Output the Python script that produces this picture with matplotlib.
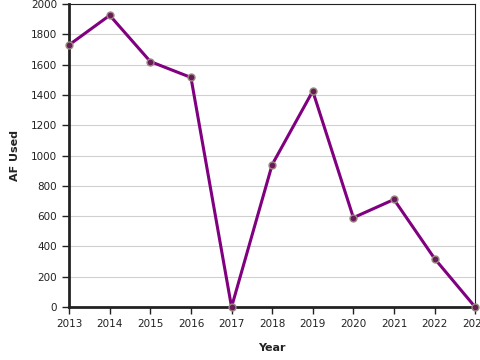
import matplotlib
matplotlib.use('Agg')
from matplotlib import pyplot as plt

# Data;
years = [2013, 2014, 2015, 2016, 2017, 2018, 2019, 2020, 2021, 2022, 2023]
af_used = [1730, 1925, 1620, 1515, 0, 940, 1425, 590, 710, 320, 0]

fig = plt.figure(figsize=(4.8, 3.6), dpi=100)
ax = fig.add_axes([0.144, 0.147, 0.846, 0.842])

ax.plot(years, af_used, color='#800080', linewidth=2.2, zorder=3,
        marker='o', markersize=5, markerfacecolor='#6a1a5a',
        markeredgecolor='#9a8a80', markeredgewidth=1.0, clip_on=False)

ax.set_xlim(2013, 2023)
ax.set_ylim(0, 2000)
ax.set_xticks(years)
ax.set_yticks(range(0, 2001, 200))
ax.tick_params(labelsize=7.5, colors='#222222', length=5, width=1)
ax.yaxis.grid(True, color='#d0d0d0', linewidth=0.8)
ax.set_axisbelow(True)

for side in ['left', 'bottom']:
    ax.spines[side].set_linewidth(2)
    ax.spines[side].set_color('#222222')
for side in ['top', 'right']:
    ax.spines[side].set_linewidth(0.8)
    ax.spines[side].set_color('#222222')

ax.set_xlabel('Year', fontsize=8, fontweight='bold', color='#222222', labelpad=10)
ax.set_ylabel('AF Used', fontsize=8, fontweight='bold', color='#222222', labelpad=8)

fig.savefig('out.png', dpi=100)
